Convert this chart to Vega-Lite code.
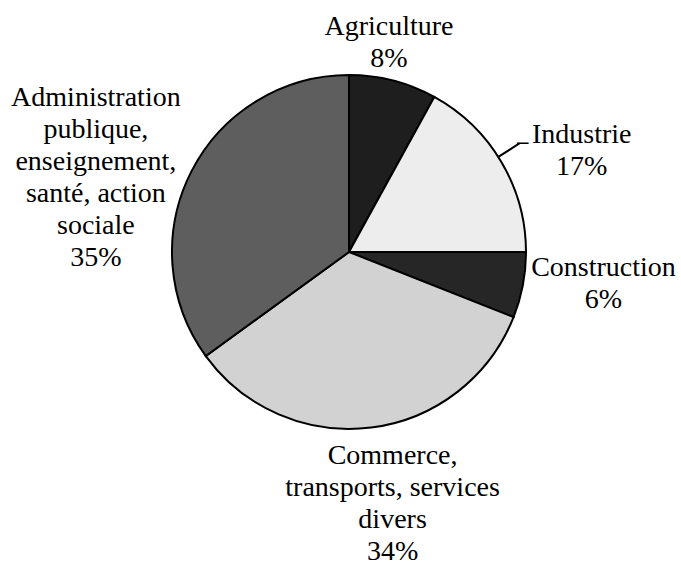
{
  "$schema": "https://vega.github.io/schema/vega-lite/v6.json",
  "autosize": "none",
  "width": 664,
  "height": 504,
  "padding": {"left": 17, "top": 0, "right": 0, "bottom": 59},
  "background": "white",
  "config": {"view": {"stroke": null}, "text": {"font": "Liberation Serif, Times New Roman, serif", "fontSize": 28, "lineHeight": 32, "color": "black"}},
  "data": {"values": [
    {"secteur": "Agriculture", "libelle": "Agriculture\n8%", "valeur": 8, "ordre": 1},
    {"secteur": "Industrie", "libelle": "Industrie\n17%", "valeur": 17, "ordre": 2},
    {"secteur": "Construction", "libelle": "Construction\n6%", "valeur": 6, "ordre": 3},
    {"secteur": "Commerce", "libelle": "Commerce,\ntransports, services\ndivers\n34%", "valeur": 34, "ordre": 4},
    {"secteur": "Administration", "libelle": "Administration\npublique,\nenseignement,\nsanté, action\nsociale\n35%", "valeur": 35, "ordre": 5}
  ]},
  "encoding": {
    "theta": {"field": "valeur", "type": "quantitative", "stack": true},
    "order": {"field": "ordre", "type": "quantitative"}
  },
  "layer": [
    {
      "mark": {"type": "arc", "outerRadius": 177, "stroke": "black", "strokeWidth": 2},
      "encoding": {
        "color": {"field": "secteur", "type": "nominal", "sort": null, "legend": null,
          "scale": {"domain": ["Agriculture", "Industrie", "Construction", "Commerce", "Administration"],
                    "range": ["#1e1e1e", "#ededed", "#262626", "#d2d2d2", "#5e5e5e"]}}
      }
    },
    {
      "mark": {"type": "text", "font": "Liberation Serif, Times New Roman, serif", "radius": 213, "dx": -13, "dy": -19, "lineBreak": "\n", "align": "center", "baseline": "middle"},
      "encoding": {"text": {"condition": {"test": "datum.secteur === 'Agriculture'", "field": "libelle"}, "value": ""}}
    },
    {
      "mark": {"type": "text", "font": "Liberation Serif, Times New Roman, serif", "radius": 253, "dx": 15, "dy": 12, "lineBreak": "\n", "align": "center", "baseline": "middle"},
      "encoding": {"text": {"condition": {"test": "datum.secteur === 'Industrie'", "field": "libelle"}, "value": ""}}
    },
    {
      "mark": {"type": "text", "font": "Liberation Serif, Times New Roman, serif", "radius": 255, "dx": 4, "dy": -32, "lineBreak": "\n", "align": "center", "baseline": "middle"},
      "encoding": {"text": {"condition": {"test": "datum.secteur === 'Construction'", "field": "libelle"}, "value": ""}}
    },
    {
      "mark": {"type": "text", "font": "Liberation Serif, Times New Roman, serif", "radius": 252, "dx": 12, "dy": -46, "lineBreak": "\n", "align": "center", "baseline": "middle"},
      "encoding": {"text": {"condition": {"test": "datum.secteur === 'Commerce'", "field": "libelle"}, "value": ""}}
    },
    {
      "mark": {"type": "text", "font": "Liberation Serif, Times New Roman, serif", "radius": 265, "dx": -17, "dy": -34, "lineBreak": "\n", "align": "center", "baseline": "middle"},
      "encoding": {"text": {"condition": {"test": "datum.secteur === 'Administration'", "field": "libelle"}, "value": ""}}
    },
    {
      "transform": [{"filter": "datum.secteur === 'Industrie'"}],
      "mark": {"type": "arc", "stroke": "black", "strokeWidth": 2, "fill": null},
      "encoding": {
        "theta": {"value": 1.0036},
        "theta2": {"value": 1.0037},
        "radius": {"value": 201},
        "radius2": {"value": 178}
      }
    },
    {
      "transform": [{"filter": "datum.secteur === 'Industrie'"}],
      "mark": {"type": "text", "fontSize": 13, "fontWeight": "bold", "align": "center", "baseline": "middle", "font": "DejaVu Sans"},
      "encoding": {
        "theta": {"value": 1.0105},
        "radius": {"value": 205},
        "text": {"value": "—"}
      }
    }
  ]
}
